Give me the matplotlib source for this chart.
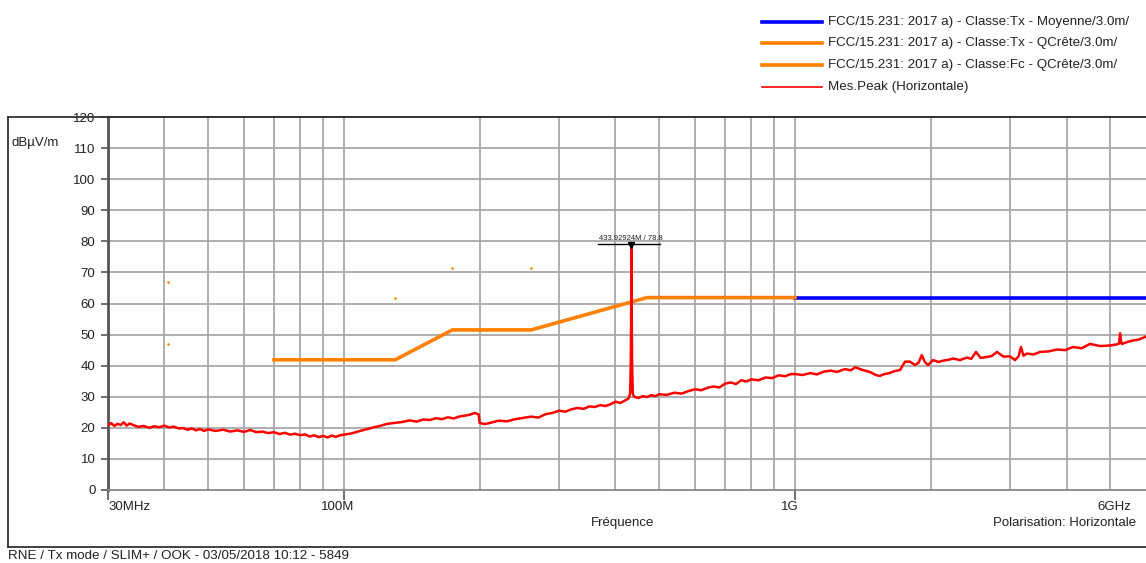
import matplotlib
matplotlib.use("Agg")
import matplotlib.pyplot as plt
from matplotlib.lines import Line2D
import numpy as np

plt.rcParams['font.family'] = ['Liberation Sans', 'DejaVu Sans']

# measured peak trace (MHz, dBuV/m)
meas_freq = [30, 30.5, 31, 31.5, 32, 32.5, 33, 33.5, 34, 35,
             36, 37, 38, 39, 40, 41, 42, 43, 44, 45,
             46, 47, 48, 49, 50, 52, 54, 56, 58, 60,
             62, 64, 66, 68, 70, 72, 74, 76, 78, 80,
             82, 84, 86, 88, 90, 92, 94, 96, 98, 100,
             104, 108, 112, 116, 120, 125, 130, 135, 140, 145,
             150, 155, 160, 165, 170, 175, 180, 185, 190, 195, 199,
             200, 205, 210, 215, 220, 230, 240, 250, 260, 270,
             280, 290, 300, 310, 320, 330, 340, 350, 360, 370,
             380, 390, 400, 410, 420, 428, 431, 432.5, 433.5, 433.93,
             434.3, 435.5, 437, 440,
             450, 460, 470, 480, 490, 500, 520, 540, 560, 580,
             600, 620, 640, 660, 680, 700, 720, 740, 760, 780,
             800, 830, 860, 890, 920, 950, 980,
             1000, 1040, 1080, 1120, 1160, 1200, 1240, 1290, 1330, 1360,
             1400, 1440, 1470, 1510, 1540, 1580, 1620, 1660, 1709, 1754,
             1799, 1846, 1880, 1910, 1940, 1972, 2023, 2080, 2129, 2190,
             2241, 2320, 2405, 2460, 2519, 2580, 2664, 2730, 2804, 2900,
             2996, 3075, 3130, 3170, 3210, 3267, 3380, 3493, 3650, 3809,
             3970, 4132, 4320, 4508, 4750, 4991, 5150, 5230, 5256, 5290,
             5309, 5450, 5611, 5780, 5970, 6000]
meas_level = [20.8, 21.5, 20.6, 21.3, 20.9, 21.8, 20.7, 21.4, 21.0, 20.3,
              20.6, 20.0, 20.5, 20.2, 20.7, 20.1, 20.4, 19.8, 19.9, 19.4,
              19.8, 19.2, 19.6, 19.0, 19.5, 19.0, 19.4, 18.8, 19.2, 18.7,
              19.3, 18.6, 18.8, 18.3, 18.6, 18.0, 18.4, 17.8, 18.1, 17.6,
              17.9, 17.2, 17.6, 17.0, 17.4, 16.9, 17.5, 17.1, 17.6, 17.8,
              18.2, 18.9, 19.5, 20.1, 20.6, 21.3, 21.6, 21.9, 22.4, 22.0,
              22.7, 22.5, 23.1, 22.8, 23.4, 23.0, 23.6, 23.9, 24.2, 24.8, 24.3,
              21.6, 21.2, 21.5, 21.9, 22.3, 22.1, 22.8, 23.2, 23.6, 23.3,
              24.4, 24.8, 25.5, 25.2, 26.0, 26.4, 26.1, 26.9, 26.7, 27.3,
              27.0, 27.6, 28.4, 28.0, 28.8, 29.5, 31.0, 40.0, 60.0, 78.8,
              62.0, 40.0, 31.0, 30.0,
              29.6, 30.2, 29.9, 30.5, 30.2, 30.8, 30.6, 31.3, 31.0, 31.8,
              32.4, 32.1, 32.9, 33.3, 33.0, 34.2, 34.6, 34.1, 35.3, 34.9,
              35.6, 35.3, 36.2, 36.0, 36.9, 36.6, 37.3,
              37.3, 37.0, 37.6, 37.2, 38.1, 38.4, 38.0, 38.9, 38.5, 39.5,
              38.8, 38.3, 37.9, 37.0, 36.7, 37.3, 37.6, 38.2, 38.6, 41.3,
              41.3, 40.2, 41.0, 43.4, 41.2, 40.2, 41.8, 41.2, 41.6, 41.9,
              42.3, 41.8, 42.6, 42.2, 44.4, 42.5, 42.8, 43.1, 44.4, 42.9,
              43.0, 41.8, 43.0, 46.0, 43.2, 43.9, 43.6, 44.4, 44.6, 45.2,
              45.0, 46.0, 45.6, 47.0, 46.3, 46.5, 46.8, 47.1, 50.4, 47.2,
              47.0, 47.6, 48.1, 48.4, 49.2, 49.4]

# FCC 15.231 limits
avg_freq = [1000, 6000]
avg_level = [61.9, 61.9]
qp_freq = [70, 130, 174, 260, 470, 1000]
qp_level = [41.9, 41.9, 51.5, 51.5, 61.9, 61.9]
fc_freq = [40.68, 40.68, 130, 174, 260]
fc_level = [67.0, 47.0, 61.9, 71.5, 71.5]

peak_freq = 433.92924
peak_level = 78.8

grid_freq = [40, 50, 60, 70, 80, 90, 100, 200, 300, 400, 500, 600, 700, 800, 900,
             1000, 2000, 3000, 4000, 5000]
y_ticks = list(range(0, 130, 10))

legend_labels = ["FCC/15.231: 2017 a) - Classe:Tx - Moyenne/3.0m/",
                 "FCC/15.231: 2017 a) - Classe:Tx - QCrête/3.0m/",
                 "FCC/15.231: 2017 a) - Classe:Fc - QCrête/3.0m/",
                 "Mes.Peak (Horizontale)"]

W, H = 1146, 563
fig = plt.figure(figsize=(W / 100, H / 100), dpi=100)

def fx(px):
    return px / W

def fy(py):
    return 1 - py / H

ax = fig.add_axes([fx(108), fy(490), (1146 - 108) / W, (490 - 117) / H])
ax.set_xscale('log')
ax.set_xlim(30, 6000)
ax.set_ylim(0, 120)

# grid
for f in grid_freq:
    ax.axvline(f, color='#a8a8a8', lw=1.3, zorder=1)
for v in y_ticks[1:-1]:
    ax.axhline(v, color='#a8a8a8', lw=1.3, zorder=1)

# limits + measurement
ax.plot(avg_freq, avg_level, color='#0000ff', lw=2.6, zorder=3)
ax.plot(qp_freq, qp_level, color='#ff8000', lw=2.6, zorder=3)
ax.plot(fc_freq, fc_level, ls='none', marker='s', ms=0.8, color='#ff8000', zorder=3)
ax.plot(meas_freq, meas_level, color='#ff0000', lw=1.8, zorder=4)

# marker on the peak
ax.plot([peak_freq], [peak_level], marker='v', ms=4, color='black', zorder=5)
ax.plot([366, 502], [peak_level + 0.3, peak_level + 0.3], color='black', lw=1.0, zorder=5)
ax.text(peak_freq * 0.995, peak_level + 0.9, "433.92924M / 78.8", fontsize=5.5,
        ha='center', va='bottom', color='#222222', zorder=5)

# axes styling
ax.set_yticks(y_ticks)
ax.set_yticklabels([str(v) for v in y_ticks], fontsize=9.5, color='#222222')
ax.set_xticks([30, 100, 1000])
ax.set_xticklabels([])
ax.xaxis.set_minor_locator(matplotlib.ticker.NullLocator())
ax.tick_params(axis='y', length=5, width=1.2, color='#555555', pad=4)
ax.tick_params(axis='x', length=7, width=1.2, color='#555555')
ax.spines['left'].set_color('#555555')
ax.spines['left'].set_linewidth(2)
ax.spines['bottom'].set_color('#888888')
ax.spines['bottom'].set_linewidth(1.3)
ax.spines['top'].set_color('#222222')
ax.spines['top'].set_linewidth(1.3)
ax.spines['right'].set_visible(False)

# outer frame
box = dict(color='#333333', lw=1.3)
fig.add_artist(Line2D([fx(8), fx(8)], [fy(117), fy(547)], **box))
fig.add_artist(Line2D([fx(8), fx(1146)], [fy(547), fy(547)], **box))
fig.add_artist(Line2D([fx(8), fx(108)], [fy(117), fy(117)], **box))

# texts
tc = '#222222'
fig.text(fx(12), fy(143), "dBµV/m", fontsize=9.5, ha='left', va='center', color=tc)
fig.text(fx(108), fy(507), "30MHz", fontsize=9.5, ha='left', va='center', color=tc)
fig.text(fx(338), fy(507), "100M", fontsize=9.5, ha='center', va='center', color=tc)
fig.text(fx(799), fy(507), "1G", fontsize=9.5, ha='right', va='center', color=tc)
fig.text(fx(1131), fy(507), "6GHz", fontsize=9.5, ha='right', va='center', color=tc)
fig.text(fx(623), fy(523), "Fréquence", fontsize=9.5, ha='center', va='center', color=tc)
fig.text(fx(1136), fy(523), "Polarisation: Horizontale", fontsize=9.5, ha='right', va='center', color=tc)
fig.text(fx(8), fy(556), "RNE / Tx mode / SLIM+ / OOK - 03/05/2018 10:12 - 5849",
         fontsize=9.6, ha='left', va='center', color=tc)

# legend drawn by hand
leg_colors = ['#0000ff', '#ff8000', '#ff8000', '#ff0000']
leg_widths = [2.6, 2.6, 2.6, 1.2]
leg_y = [22, 43, 65, 87]
for lab, c, w, y in zip(legend_labels, leg_colors, leg_widths, leg_y):
    fig.add_artist(Line2D([fx(762), fx(822)], [fy(y), fy(y)], color=c, lw=w))
    fig.text(fx(828), fy(y), lab, fontsize=9.6, ha='left', va='center', color=tc)

fig.savefig("out.png", dpi=100)
